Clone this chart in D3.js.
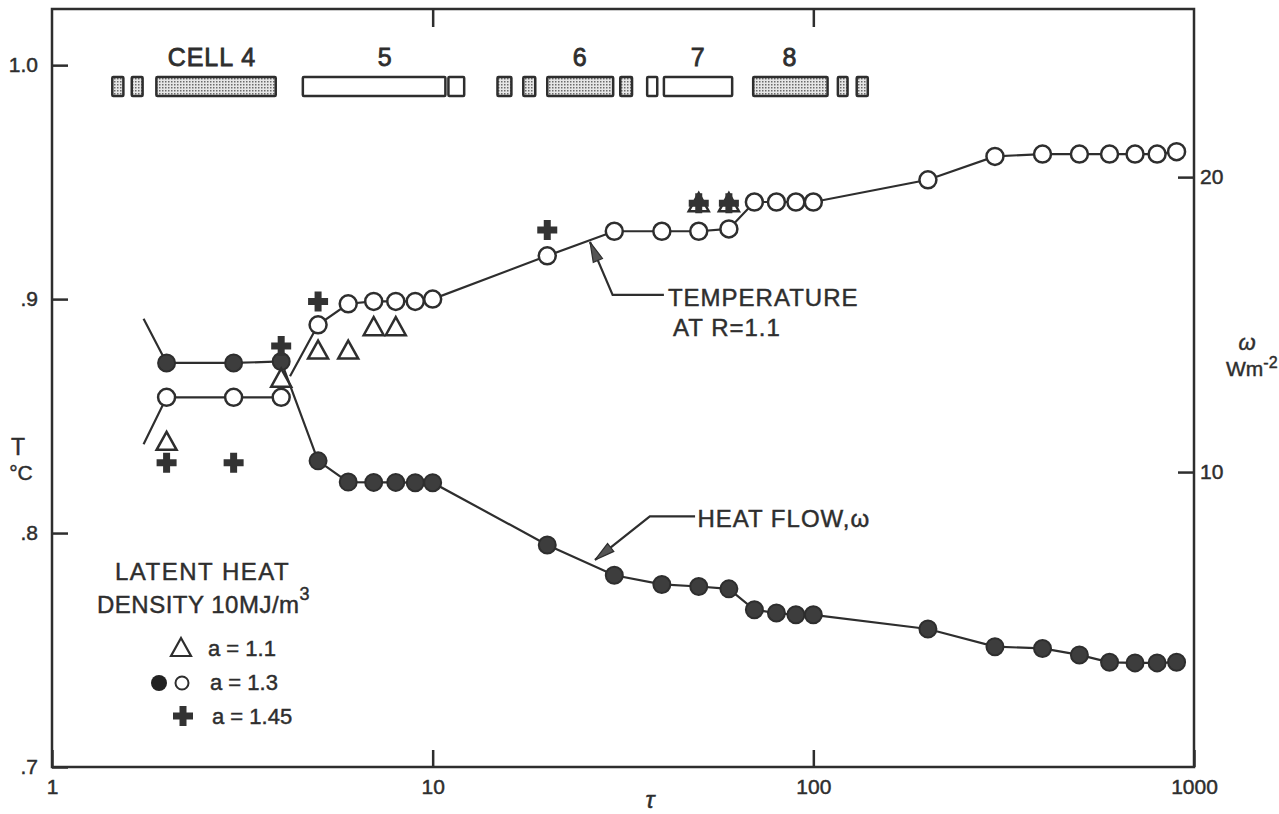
<head>
  <script src="https://d3js.org/d3.v7.min.js"></script>
</head>
<style>
  body { margin: 0; background: #fff; }
  text { font-family: "Liberation Sans", Arial, sans-serif; fill: #2e2e2e; stroke: #2e2e2e; stroke-width: 0.45px; }
</style>
<body>
  <svg id="chart"></svg>
</body>
<script>
  // tau values of the computed points (both series share them)
  var tau = [2, 3, 4, 5, 6, 7, 8, 9, 10, 20, 30, 40, 50, 60, 70, 80, 90, 100, 200, 300, 400, 500, 600, 700, 800, 900];
  // temperature at R=1.1 (deg C), a = 1.3, open circles
  var tempC = [0.858, 0.858, 0.858, 0.889, 0.898, 0.899, 0.899, 0.899, 0.900, 0.9185, 0.929, 0.929, 0.929, 0.930,
               0.9415, 0.9415, 0.9415, 0.9415, 0.951, 0.961, 0.962, 0.962, 0.962, 0.962, 0.962, 0.963];
  // heat flow (W m-2), a = 1.3, filled circles
  var heatFlow = [13.7, 13.7, 13.75, 10.38, 9.66, 9.65, 9.65, 9.64, 9.64, 7.53, 6.50, 6.19, 6.12, 6.04,
                  5.33, 5.22, 5.16, 5.16, 4.68, 4.08, 4.02, 3.80, 3.55, 3.53, 3.53, 3.55];
  // line lead-ins without markers
  var tempLeadTau = [1.74, 4.22];
  var tempLeadVal = [0.838, 0.867];
  var tempBreakAfter = 4;        // temperature line restarts after this tau
  var heatLeadTau = 1.74;
  var heatLeadVal = 15.2;

  // a = 1.1 (triangles)
  var triTau = [2, 4, 5, 6, 7, 8, 50, 60];
  var triVal = [0.839, 0.866, 0.878, 0.878, 0.888, 0.888, 0.941, 0.941];
  // a = 1.45 (crosses)
  var plusTau = [2, 3, 4, 5, 20, 50, 60];
  var plusVal = [0.830, 0.830, 0.880, 0.899, 0.9295, 0.941, 0.941];

  // cell periods along the top (tau ranges)
  var cellStart = [1.44, 1.62, 1.88, 4.56, 11.0, 14.8, 17.3, 20.0, 31.1, 36.6, 40.5, 69.5, 116, 130];
  var cellEnd   = [1.54, 1.73, 3.87, 10.8, 12.1, 16.1, 18.6, 29.8, 33.4, 38.9, 61.2, 109, 123, 139];
  var cellShaded = [1, 1, 1, 0, 0, 1, 1, 1, 1, 0, 0, 1, 1, 1];
  var cellNames = ["CELL 4", "5", "6", "7", "8"];
  var cellNameTau = [2.63, 7.5, 24.4, 49.8, 86.8];

  var xTicks = [1, 10, 100, 1000];
  var tTicks = [0.7, 0.8, 0.9, 1.0];
  var wTicks = [10, 20];

  var w = 1279, h = 814;
  var ink = "#2e2e2e";
  var svg = d3.select("#chart").attr("width", w).attr("height", h);

  var x = d3.scaleLog().domain([1, 1000]).range([52, 1194]);
  var yT = d3.scaleLinear().domain([0.7, 1.024]).range([767, 9]);
  var yW = d3.scaleLinear().domain([0, 25.7]).range([767, 9]);

  var defs = svg.append("defs");
  var pat = defs.append("pattern").attr("id", "stip")
      .attr("width", 3).attr("height", 3).attr("patternUnits", "userSpaceOnUse");
  pat.append("rect").attr("width", 3).attr("height", 3).attr("fill", "#e6e6e6");
  pat.append("rect").attr("width", 1.5).attr("height", 1.5).attr("fill", "#6a6a6a");

  // frame
  svg.append("rect").attr("x", 52).attr("y", 9).attr("width", 1142).attr("height", 758)
      .attr("fill", "none").attr("stroke", ink).attr("stroke-width", 2.5);

  function styleAxis(g) {
    g.select(".domain").remove();
    g.selectAll(".tick line").attr("stroke", ink).attr("stroke-width", 2.5);
    g.selectAll(".tick text").style("font-size", "21px").attr("fill", ink);
  }

  svg.append("g").attr("transform", "translate(52,0)")
      .call(d3.axisLeft(yT).tickValues(tTicks).tickSize(-16).tickPadding(14)
        .tickFormat(function(d){ return d === 1 ? "1.0" : String(d).slice(1); }))
      .call(styleAxis);
  svg.append("g").attr("transform", "translate(1194,0)")
      .call(d3.axisRight(yW).tickValues(wTicks).tickSize(-16).tickPadding(6))
      .call(styleAxis);
  svg.append("g").attr("transform", "translate(0,767)")
      .call(d3.axisBottom(x).tickValues(xTicks).tickSize(-17).tickPadding(12).tickFormat(d3.format("d")))
      .call(styleAxis);
  svg.append("g").attr("transform", "translate(0,9)")
      .call(d3.axisTop(x).tickValues([10, 100]).tickSize(-18).tickFormat(""))
      .call(styleAxis);

  // axis titles
  svg.append("text").attr("x", 18).attr("y", 455).attr("text-anchor", "middle")
      .style("font-size", "23px").text("T");
  svg.append("text").attr("x", 21).attr("y", 480).attr("text-anchor", "middle")
      .style("font-size", "21px").text("°C");
  svg.append("text").attr("x", 1247).attr("y", 350).attr("text-anchor", "middle")
      .style("font-size", "22px").style("font-style", "italic").text("ω");
  var wm = svg.append("text").attr("x", 1226).attr("y", 376).style("font-size", "21px");
  wm.append("tspan").text("Wm");
  wm.append("tspan").attr("dy", -8).style("font-size", "16px").text("-2");
  svg.append("text").attr("x", 650).attr("y", 808).attr("text-anchor", "middle")
      .style("font-size", "24px").style("font-style", "italic").text("τ");

  // cell bars
  svg.append("g").selectAll("rect").data(cellStart).join("rect")
      .attr("x", function(d){ return x(d); })
      .attr("y", 77)
      .attr("width", function(d, i){ return x(cellEnd[i]) - x(d); })
      .attr("height", 19)
      .attr("fill", function(d, i){ return cellShaded[i] ? "url(#stip)" : "#fff"; })
      .attr("stroke", ink).attr("stroke-width", 2.5).attr("rx", 1);
  svg.append("g").selectAll("text").data(cellNames).join("text")
      .attr("x", function(d, i){ return x(cellNameTau[i]); })
      .attr("y", 66).attr("text-anchor", "middle")
      .style("font-size", "25px").style("letter-spacing", "1px").style("stroke-width", "0.8px")
      .text(function(d){ return d; });

  // lines
  var lineT = d3.line().x(function(d){ return x(d[0]); }).y(function(d){ return yT(d[1]); });
  var lineW = d3.line().x(function(d){ return x(d[0]); }).y(function(d){ return yW(d[1]); });

  var tPts = tau.map(function(t, i){ return [t, tempC[i]]; });
  var wPts = tau.map(function(t, i){ return [t, heatFlow[i]]; });
  var seg1 = [[tempLeadTau[0], tempLeadVal[0]]].concat(tPts.filter(function(d){ return d[0] <= tempBreakAfter; }));
  var seg2 = [[tempLeadTau[1], tempLeadVal[1]]].concat(tPts.filter(function(d){ return d[0] > tempBreakAfter; }));
  var segW = [[heatLeadTau, heatLeadVal]].concat(wPts);

  [lineT(seg1), lineT(seg2), lineW(segW)].forEach(function(p){
    svg.append("path").attr("d", p).attr("fill", "none").attr("stroke", ink).attr("stroke-width", 2.2);
  });

  // annotation leaders
  function leader(pts, sc) {
    var p = pts.map(function(d){ return [x(d[0]), sc(d[1])]; });
    svg.append("path").attr("d", d3.line()(p)).attr("fill", "none")
        .attr("stroke", ink).attr("stroke-width", 2.2);
    var a = p[p.length - 1], b = p[p.length - 2];
    var ang = Math.atan2(a[1] - b[1], a[0] - b[0]);
    var L = 20, W = 5;
    var bx = a[0] - L * Math.cos(ang), by = a[1] - L * Math.sin(ang);
    var nx = -Math.sin(ang) * W, ny = Math.cos(ang) * W;
    svg.append("path")
        .attr("d", "M" + a[0] + "," + a[1] + "L" + (bx + nx) + "," + (by + ny) + "L" + (bx - nx) + "," + (by - ny) + "Z")
        .attr("fill", "#555").attr("stroke", ink).attr("stroke-width", 1.2);
  }
  leader([[40.5, 0.9018], [29.7, 0.9018], [25.9, 0.9244]], yT);
  leader([[48.9, 8.5], [37.2, 8.5], [26.7, 7.02]], yW);

  svg.append("text").attr("x", x(41.5)).attr("y", 306).style("font-size", "24px")
      .style("letter-spacing", "1px").text("TEMPERATURE");
  svg.append("text").attr("x", x(42.8)).attr("y", 336).style("font-size", "24px")
      .style("letter-spacing", "1px").text("AT R=1.1");
  svg.append("text").attr("x", x(49.6)).attr("y", 527).style("font-size", "24px")
      .style("letter-spacing", "1px").text("HEAT FLOW,ω");

  // markers
  function triPath(cx, cy) {
    return "M" + cx + "," + (cy - 10) + "L" + (cx + 10) + "," + (cy + 8) + "L" + (cx - 10) + "," + (cy + 8) + "Z";
  }
  function plusPath(cx, cy) {
    var a = 10, b = 3.5;
    return "M" + (cx - b) + "," + (cy - a) + "h" + 2 * b + "v" + (a - b) + "h" + (a - b) + "v" + 2 * b +
      "h" + (b - a) + "v" + (a - b) + "h" + (-2 * b) + "v" + (b - a) + "h" + (b - a) + "v" + (-2 * b) +
      "h" + (a - b) + "Z";
  }

  svg.append("g").selectAll("circle").data(wPts).join("circle")
      .attr("cx", function(d){ return x(d[0]); }).attr("cy", function(d){ return yW(d[1]); })
      .attr("r", 8.5).attr("fill", "#3d3d3d").attr("stroke", ink).attr("stroke-width", 2);
  svg.append("g").selectAll("circle").data(tPts).join("circle")
      .attr("cx", function(d){ return x(d[0]); }).attr("cy", function(d){ return yT(d[1]); })
      .attr("r", 8.5).attr("fill", "#fff").attr("stroke", ink).attr("stroke-width", 2.5);
  svg.append("g").selectAll("path").data(triTau).join("path")
      .attr("d", function(d, i){ return triPath(x(d), yT(triVal[i])); })
      .attr("fill", "none").attr("stroke", ink).attr("stroke-width", 2.5);
  svg.append("g").selectAll("path").data(plusTau).join("path")
      .attr("d", function(d, i){ return plusPath(x(d), yT(plusVal[i])); })
      .attr("fill", "#333").attr("stroke", "none");

  // legend
  var lg = svg.append("g");
  lg.append("text").attr("x", 115).attr("y", 580).style("font-size", "24px")
      .style("letter-spacing", "1.5px").text("LATENT HEAT");
  var dn = lg.append("text").attr("x", 97).attr("y", 613).style("font-size", "24px").style("letter-spacing", "0.5px");
  dn.append("tspan").text("DENSITY 10MJ/m");
  dn.append("tspan").attr("dy", -13).style("font-size", "18px").text("3");
  lg.append("path").attr("d", triPath(181, 648)).attr("fill", "none").attr("stroke", ink).attr("stroke-width", 2.2);
  lg.append("circle").attr("cx", 159).attr("cy", 683).attr("r", 8).attr("fill", "#222");
  lg.append("circle").attr("cx", 182).attr("cy", 683).attr("r", 6.5).attr("fill", "#fff")
      .attr("stroke", ink).attr("stroke-width", 2);
  lg.append("path").attr("d", plusPath(183, 716)).attr("fill", "#333");
  var lgLabels = ["a = 1.1", "a = 1.3", "a = 1.45"];
  lg.selectAll("text.lab").data(lgLabels).join("text").attr("class", "lab")
      .attr("x", function(d, i){ return 208 + 2 * i; })
      .attr("y", function(d, i){ return 656 + 34 * i; })
      .style("font-size", "22px").text(function(d){ return d; });
</script>
